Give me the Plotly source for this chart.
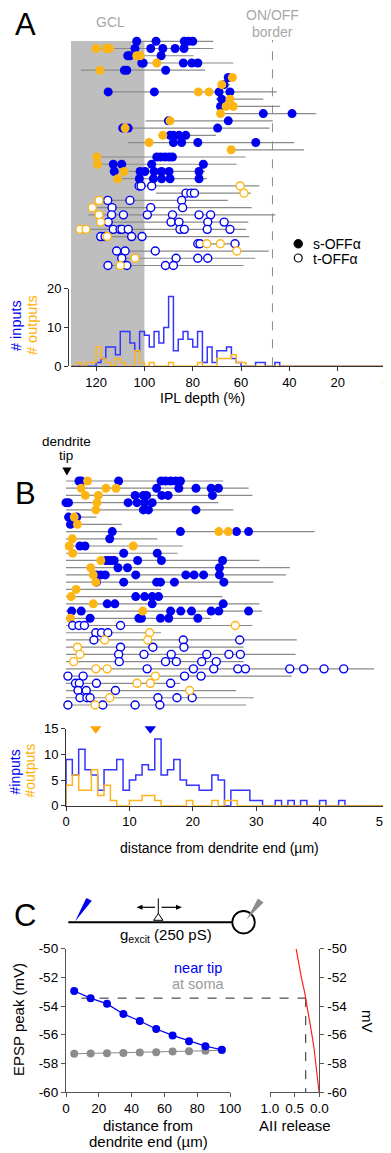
import numpy as np
import plotly.graph_objects as go

W, H = 391, 1153
OFF = 8  # page body margin of the viewer: screen position = figure position + 8 px
BLUE = '#0000f0'
ORANGE = '#fdb515'
HBLUE = '#3535ff'
HORANGE = '#ffb41e'
GREY_LINE = '#8a8a8a'
FONT = 'Liberation Sans, Arial, Helvetica, sans-serif'

# ---------------- Panel A data (IPL depth, %) ----------------
A_start = [103.2, 121.8, 107.3, 101.1, 126.3, 65.9, 68.7, 115.6, 70.4, 69.4, 68.7, 99.5,
           109.8, 94.2, 106.9, 65.9, 119.7, 119.4, 112.9, 111.5, 103.2, 95.2, 118.8, 121.6,
           123.2, 118.1, 126.7, 119.7, 79.1, 112.2, 110.4, 115.1]
A_end = [71.5, 71.5, 79.7, 63.2, 74.9, 63.2, 64.6, 45.2, 50.8, 43.8, 28.9, 46.9,
         48.2, 70.4, 38.0, 33.9, 58.1, 61.8, 74.9, 74.2, 52.4, 56.0, 65.5, 55.6,
         45.8, 57.0, 57.9, 56.6, 60.7, 48.5, 54.1, 59.0]
A_inputs = [
    [103.2, 95.2, 83.5, 81.8, 80.0], [103.9, 97.4, 92.4, 87.3, 83.6], [106.9, 106.0, 93.1],
    [101.1, 100.5, 83.9, 80.4, 77.9], [108.3, 107.3, 91.2], [65.3], [67.0],
    [115.0, 95.9, 69.1, 64.6], [68.0], [68.5], [50.8, 38.9], [90.1, 65.3],
    [109.0, 106.7, 69.7], [89.4, 88.0, 85.7, 82.9], [88.0, 84.6, 77.9, 53.9], [],
    [94.9, 93.3, 91.5, 89.8, 88.4], [112.9, 109.4, 97.0, 75.6],
    [112.5, 101.8, 99.8, 96.0, 92.9, 89.8, 77.4], [102.1, 96.3, 92.9, 89.4, 77.4],
    [102.2, 101.4, 97.0], [82.8, 80.8, 79.3], [115.2, 106.0, 84.6], [113.4, 97.4, 84.2],
    [113.6, 108.7, 98.8, 88.4, 77.4, 72.6], [115.0, 89.0, 85.7, 73.8, 67.0],
    [112.9, 110.1, 109.3, 106.7, 85.3, 83.5, 74.0, 64.6], [118.1, 116.3, 105.3, 101.0],
    [77.9, 77.0, 62.5], [111.5, 108.0, 95.5], [109.4, 86.9, 77.9, 73.8],
    [115.1, 107.3, 91.3, 88.0]]
A_outputs = [
    [], [120.0, 115.9, 114.5], [103.2, 101.8], [94.9], [118.4], [63.6], [68.0],
    [77.7, 73.3], [64.6], [66.2, 63.2], [68.5], [89.4], [108.0], [92.4], [98.1], [64.1],
    [119.7], [119.4], [108.5], [111.1], [60.4], [58.8], [118.8], [121.6], [118.8], [118.1],
    [126.7, 124.2], [115.4], [74.2, 68.6], [61.8], [103.9], [110.0]]
A_sustained = [True] * 20 + [False] * 12

A_bin_edges = list(range(130, -1, -2))
A_hist_inputs = [0, 0, 0, 0, 0,
                 1, 2, 5, 5, 3, 9, 9, 6, 4, 9,
                 8, 5, 9, 6, 10, 18, 4, 7, 9, 7,
                 5, 9, 1, 5, 1, 4, 4, 5, 2, 1,
                 0, 0, 0, 1, 1, 0, 0, 1, 0, 0] + [0] * 20
A_hist_outputs = [0, 1, 0, 1, 1,
                  5, 2, 1, 0, 2, 1, 0, 0, 4, 1,
                  0, 1, 0, 0, 0, 1, 0, 0, 0, 0,
                  0, 1, 0, 0, 0, 2, 2, 2, 3, 1,
                  1, 0, 0, 0, 0, 0, 0, 0, 0, 0] + [0] * 20
A_ipl_ticks = [120, 100, 80, 60, 40, 20, 0]
A_gcl = [130.4, 100]
A_onoff_border = 47

# ---------------- Panel B data (distance from dendrite end, um) ----------------
B_end = [24.8, 28.8, 29.4, 24.05, 26.4, 4.8, 8.8, 39.2, 14.4, 18.4, 17.6, 30.5,
         35.3, 34.7, 32.7, 15.0, 24.7, 30.5, 30.9, 22.8, 29.4, 15.0, 36.4, 28.0,
         36.2, 28.0, 48.6, 35.6, 18.0, 26.8, 29.6, 28.4]
B_inputs = [
    [2.05, 2.4, 8.3, 15.0, 15.7, 16.5, 17.3, 18.05], [14.3, 17.8, 20.5, 22.9, 24.05],
    [10.9, 12.2, 12.7, 15.1, 16.1, 23.1], [0.0, 0.4, 9.8, 11.2, 12.4, 13.6], [12.2, 13.0, 20.5],
    [0.4, 1.7], [0.7], [7.3, 18.05, 26.9, 28.8], [6.9], [2.2, 3.0], [9.1, 14.4],
    [6.3, 6.7, 7.1, 7.6, 11.3, 15.05, 24.7], [8.2, 9.7, 24.2],
    [4.8, 5.5, 6.2, 11.0, 18.9, 20.2, 21.7, 24.2], [4.8, 9.1, 14.3, 14.9, 17.1, 24.9], [],
    [11.0, 12.4, 13.6, 14.6], [6.5, 7.7, 13.6, 24.8],
    [0.9, 2.4, 16.5, 18.1, 19.8, 22.9, 24.1, 28.8], [3.8, 11.5, 11.9, 14.9, 16.2, 20.8],
    [1.05, 2.05, 2.9, 8.6], [4.7, 5.6, 6.6], [4.4, 18.5, 27.4], [8.6, 13.7, 18.6],
    [8.3, 12.3, 16.6, 22.2, 25.7, 27.5], [8.4, 15.7, 17.4, 21.4, 23.7],
    [12.8, 20.1, 23.3, 27.1, 28.3, 35.3, 37.5, 40.7, 43.8], [0.3, 2.7, 18.7, 21.3],
    [1.5, 2.1, 4.8, 16.5], [1.9, 3.2, 7.8], [2.2, 3.3, 3.8, 14.5, 17.5, 19.9],
    [0.3, 5.8, 10.9, 14.8]]
B_outputs = [
    [3.4], [2.4, 6.3, 7.9], [3.05, 5.1], [4.9], [4.7], [1.3], [1.8], [24.1, 25.6], [1.0],
    [0.5, 10.6], [1.05], [5.5], [3.9], [4.3], [4.7], [1.6], [0.8], [4.3], [12.1], [0.7],
    [26.7], [13.2], [6.1, 12.9], [1.8], [2.2], [1.2], [4.7, 6.5], [14.1], [11.2, 13.3],
    [19.5], [6.9], [4.6]]
B_sustained = [True] * 20 + [False] * 12

B_bin_edges = list(range(0, 51))
B_hist_inputs = [9, 6, 11, 7, 6, 3, 7, 7, 9, 3,
                 5, 6, 8, 7, 13, 6, 7, 9, 5, 4,
                 4, 3, 3, 6, 5, 0, 3, 3, 3, 1,
                 1, 0, 0, 1, 0, 1, 0, 1, 0, 0,
                 1, 0, 0, 1, 0, 0, 0, 0, 0, 0]
B_hist_outputs = [4, 6, 3, 3, 7, 2, 4, 1, 0, 0,
                  1, 1, 2, 2, 1, 0, 0, 0, 0, 1,
                  0, 0, 0, 1, 0, 1, 1, 0, 0, 0,
                  0, 0, 0, 0, 0, 0, 0, 0, 0, 0,
                  0, 0, 0, 0, 0, 0, 0, 0, 0, 0]
B_median_inputs = 13.3
B_median_outputs = 4.7
B_dist_ticks = [0, 10, 20, 30, 40, 50]
B_count_ticks = [0, 5, 10, 15]

# ---------------- Panel C data ----------------
C_dist = [5, 15, 25, 35, 45, 55, 65, 75, 85, 95]
C_near_tip = [-52.95, -53.45, -53.85, -54.55, -55.05, -55.6, -56.05, -56.45, -56.8, -57.05]
C_at_soma = [-57.33, -57.31, -57.29, -57.27, -57.25, -57.22, -57.18, -57.15, -57.12, -57.08]
C_vm = [-50, -51, -52, -53, -54, -55, -56, -57, -58, -59, -60]
C_release = [0.47, 0.42, 0.365, 0.30, 0.245, 0.195, 0.15, 0.105, 0.07, 0.035, 0.005]
C_vm_ticks = [-50, -52, -54, -56, -58, -60]
C_dist_ticks = [0, 20, 40, 60, 80, 100]
C_release_ticks = [1.0, 0.5, 0.0]


# ---------------- helpers (screen pixel -> paper fraction) ----------------
def px(x):
    return (x - OFF) / W


def py(y):
    return 1 - (y - OFF) / H


def to_paper(v, dom, rng):
    return dom[0] + (v - rng[0]) / (rng[1] - rng[0]) * (dom[1] - dom[0])


def row_traces(starts, ends, ins, outs, sustained, xa, ya):
    tr = []
    lx, ly = [], []
    for r, (s, e) in enumerate(zip(starts, ends)):
        lx += [s, e, None]
        ly += [r, r, None]
    tr.append(go.Scatter(x=lx, y=ly, mode='lines', line=dict(color=GREY_LINE, width=1.2),
                         xaxis=xa, yaxis=ya, hoverinfo='skip', cliponaxis=False))
    for filled in (True, False):
        for vals, col in ((ins, BLUE), (outs, ORANGE)):
            xs, ys = [], []
            for r, v in enumerate(vals):
                if sustained[r] == filled:
                    xs += v
                    ys += [r] * len(v)
            if filled:
                mk = dict(size=9, color=col, line=dict(width=0))
            else:
                mk = dict(size=8, color='white', line=dict(color=col, width=1.4))
            tr.append(go.Scatter(x=xs, y=ys, mode='markers', marker=mk, xaxis=xa, yaxis=ya,
                                 cliponaxis=False))
    return tr


def step_trace(edges, counts, col, xa, ya):
    x = [edges[0]] + list(edges)
    y = [0] + list(counts) + [counts[-1]]
    return go.Scatter(x=x, y=y, mode='lines', line=dict(color=col, width=1.5, shape='hv'),
                      xaxis=xa, yaxis=ya, cliponaxis=False)


def path(points):
    s = 'M ' + ' L '.join(f'{px(a):.5f},{py(b):.5f}' for a, b in points) + ' Z'
    return s


fig = go.Figure()

# ---- Panel A ----
for t in row_traces(A_start, A_end, A_inputs, A_outputs, A_sustained, 'x', 'y'):
    fig.add_trace(t)
fig.add_trace(step_trace(A_bin_edges, A_hist_inputs, HBLUE, 'x2', 'y2'))
fig.add_trace(step_trace(A_bin_edges, A_hist_outputs, HORANGE, 'x2', 'y2'))

# ---- Panel B ----
for t in row_traces([0] * len(B_end), B_end, B_inputs, B_outputs, B_sustained, 'x3', 'y3'):
    fig.add_trace(t)
fig.add_trace(step_trace(B_bin_edges, B_hist_inputs, HBLUE, 'x4', 'y4'))
fig.add_trace(step_trace(B_bin_edges, B_hist_outputs, HORANGE, 'x4', 'y4'))
fig.add_trace(go.Scatter(x=[B_median_outputs, B_median_inputs], y=[15, 15], mode='markers',
                         marker=dict(symbol='triangle-down', size=10, color=['#ffa500', BLUE]),
                         xaxis='x4', yaxis='y4', cliponaxis=False))

# ---- Panel C ----
fig.add_trace(go.Scatter(x=C_dist, y=C_at_soma, mode='lines+markers',
                         line=dict(color='#8c8c8c', width=1.2),
                         marker=dict(size=8, color='#8c8c8c'), xaxis='x5', yaxis='y5', cliponaxis=False))
fig.add_trace(go.Scatter(x=C_dist, y=C_near_tip, mode='lines+markers',
                         line=dict(color=BLUE, width=1.2),
                         marker=dict(size=8, color=BLUE), xaxis='x5', yaxis='y5', cliponaxis=False))
fig.add_trace(go.Scatter(x=C_release, y=C_vm, mode='lines', line=dict(color='#ff2020', width=1.2),
                         xaxis='x6', yaxis='y6', cliponaxis=False))

# ---------------- axes ----------------
A_xdom = [px(71), px(386)]
A_xrng = [130.4, 0]
B_xdom = [px(66), px(383)]
C_xdom = [px(66), px(230)]
C_xrng = [0, 100]
R_xdom = [px(270), px(319.3)]
R_xrng = [1.0, 0.0]
C_ydom = [py(1092), py(948.7)]

hidden = dict(visible=False, showgrid=False, zeroline=False, automargin=False)
tick = dict(showgrid=False, zeroline=False, showline=True, linecolor='#333', linewidth=1,
            ticks='outside', ticklen=4, tickwidth=1, tickcolor='#333', automargin=False,
            tickfont=dict(size=13, color='black', family=FONT))
tickC = dict(tick, linecolor='#555', tickcolor='#555', linewidth=1.3, tickwidth=1.3, ticklen=4,
             tickfont=dict(size=13.5, color='black', family=FONT))

fig.update_layout(
    template='none',
    xaxis=dict(hidden, domain=A_xdom, range=A_xrng, anchor='y'),
    yaxis=dict(hidden, domain=[py(272), py(35)], range=[31.9, -0.87], anchor='x'),
    xaxis2=dict(tick, domain=A_xdom, range=A_xrng, anchor='y2', tickvals=A_ipl_ticks),
    yaxis2=dict(tick, domain=[py(366.3), py(288.7)], range=[0, 20], anchor='free',
                position=px(68), tickvals=[0, 10, 20]),
    xaxis3=dict(hidden, domain=B_xdom, range=[0, 50], anchor='y3'),
    yaxis3=dict(hidden, domain=[py(711.5), py(474.7)], range=[31.9, -0.87], anchor='x3'),
    xaxis4=dict(tick, domain=B_xdom, range=[0, 50], anchor='y4', tickvals=B_dist_ticks),
    yaxis4=dict(tick, domain=[py(805.7), py(728.7)], range=[0, 15], anchor='x4',
                tickvals=B_count_ticks),
    xaxis5=dict(tickC, domain=C_xdom, range=C_xrng, anchor='y5', tickvals=C_dist_ticks),
    yaxis5=dict(tickC, domain=C_ydom, range=[-60, -50], anchor='x5', tickvals=C_vm_ticks,
                ticktext=[str(v) for v in C_vm_ticks]),
    xaxis6=dict(tickC, domain=R_xdom, range=R_xrng, anchor='y6', tickvals=C_release_ticks,
                ticktext=[f'{v:.1f}' for v in C_release_ticks]),
    yaxis6=dict(tickC, domain=C_ydom, range=[-60, -50], anchor='x6', side='right',
                tickvals=C_vm_ticks, ticktext=[str(v) for v in C_vm_ticks]),
)

# ---------------- shapes ----------------
shapes = []
# GCL band and ON/OFF border
shapes.append(dict(type='rect', xref='x2', yref='paper', x0=A_gcl[0], x1=A_gcl[1],
                   y0=py(366.3), y1=py(41), fillcolor='#bebebe', line=dict(width=0), layer='below'))
shapes.append(dict(type='line', xref='x2', yref='paper', x0=A_onoff_border, x1=A_onoff_border,
                   y0=py(366.3), y1=py(40), line=dict(color='#8a8a8a', width=1, dash='dash'),
                   layer='below'))
# legend symbols
shapes.append(dict(type='circle', xref='paper', yref='paper', x0=px(294), x1=px(302.5),
                   y0=py(248), y1=py(239.5), fillcolor='black', line=dict(color='black', width=1)))
shapes.append(dict(type='circle', xref='paper', yref='paper', x0=px(294.3), x1=px(302.2),
                   y0=py(262), y1=py(254), fillcolor='white', line=dict(color='black', width=1.2)))
# dendrite tip marker
shapes.append(dict(type='path', xref='paper', yref='paper',
                   path=path([(62.3, 467.5), (71.5, 467.5), (66.9, 475.5)]),
                   fillcolor='black', line=dict(width=0)))

# panel C dashed guide from the 15 um near-tip EPSP to the release curve
v_ref = C_near_tip[1]
r_ref = float(np.interp(v_ref, C_vm[::-1], C_release[::-1]))
shapes.append(dict(type='line', xref='paper', yref='y5',
                   x0=to_paper(C_dist[1], C_xdom, C_xrng) - px(17) + px(8),
                   x1=to_paper(r_ref, R_xdom, R_xrng),
                   y0=v_ref, y1=v_ref, line=dict(color='#222', width=1, dash='dash'), layer='below'))
shapes.append(dict(type='line', xref='x6', yref='y6', x0=r_ref, x1=r_ref, y0=v_ref, y1=-60,
                   line=dict(color='#222', width=1, dash='dash'), layer='below'))

# panel C schematic
shapes.append(dict(type='line', xref='paper', yref='paper', x0=px(68.3), x1=px(232),
                   y0=py(922.3), y1=py(922.3), line=dict(color='black', width=2)))
shapes.append(dict(type='circle', xref='paper', yref='paper', x0=px(232.3), x1=px(254.8),
                   y0=py(933.5), y1=py(911), fillcolor='white', line=dict(color='black', width=1.8)))
shapes.append(dict(type='path', xref='paper', yref='paper',
                   path=path([(75, 921.5), (86.3, 898), (91.8, 900.8)]),
                   fillcolor='#0000f0', line=dict(width=0)))
shapes.append(dict(type='path', xref='paper', yref='paper',
                   path=path([(246.5, 919.5), (258, 898.5), (263.5, 902.5)]),
                   fillcolor='#8c8c8c', line=dict(width=0)))
shapes.append(dict(type='line', xref='paper', yref='paper', x0=px(158.3), x1=px(158.3),
                   y0=py(898.3), y1=py(914), line=dict(color='black', width=1)))
shapes.append(dict(type='path', xref='paper', yref='paper',
                   path=path([(158.3, 913.5), (153.6, 920.3), (163, 920.3)]),
                   fillcolor='white', line=dict(color='black', width=1)))
# two-headed movement arrows
shapes.append(dict(type='line', xref='paper', yref='paper', x0=px(141), x1=px(155),
                   y0=py(907.3), y1=py(907.3), line=dict(color='black', width=1.2)))
shapes.append(dict(type='path', xref='paper', yref='paper',
                   path=path([(136.5, 907.3), (142.5, 904.8), (142.5, 909.8)]),
                   fillcolor='black', line=dict(width=0)))
shapes.append(dict(type='line', xref='paper', yref='paper', x0=px(161.5), x1=px(177),
                   y0=py(907.3), y1=py(907.3), line=dict(color='black', width=1.2)))
shapes.append(dict(type='path', xref='paper', yref='paper',
                   path=path([(182, 907.3), (176, 904.8), (176, 909.8)]),
                   fillcolor='black', line=dict(width=0)))

fig.update_layout(shapes=shapes)

# ---------------- annotations ----------------
ann = []


def text(t, x, y, size=14, color='black', angle=0, xanchor='center', yanchor='middle'):
    ann.append(dict(text=t, x=px(x), y=py(y), xref='paper', yref='paper', showarrow=False,
                    font=dict(size=size, color=color, family=FONT), textangle=angle,
                    xanchor=xanchor, yanchor=yanchor))


text('A', 25, 25, size=31)
text('B', 25, 493, size=31)
text('C', 25, 915, size=31)
text('GCL', 110, 22, size=14, color='#a8a8a8')
text('ON/OFF', 272, 15, size=14, color='#a8a8a8')
text('border', 272, 32, size=14, color='#a8a8a8')
text('s-OFFα', 311, 244, size=14, xanchor='left')
text('t-OFFα', 311, 258.5, size=14, xanchor='left')
text('# inputs', 16, 326, size=14.5, color=BLUE, angle=-90)
text('# outputs', 32, 325, size=14.5, color='#ffb000', angle=-90)
text('IPL depth (%)', 202, 398, size=14)
text('dendrite', 66, 441, size=13.5)
text('tip', 66, 456, size=13.5)
text('#inputs', 14.5, 772, size=14, color=BLUE, angle=-90)
text('#outputs', 29.5, 771, size=14, color='#ffb000', angle=-90)
text('distance from dendrite end (µm)', 219.5, 848, size=14)
text('g<sub>excit</sub> (250 pS)', 166, 935, size=15)
text('near tip', 198, 968, size=14.5, color=BLUE)
text('at soma', 198, 984, size=14.5, color='#9a9a9a')
text('EPSP peak (mV)', 19, 1020, size=15, angle=-90)
text('distance from', 148, 1125, size=15)
text('dendrite end (µm)', 148, 1141, size=15)
text('AII release', 295, 1125, size=15)
text('mV', 368, 1021, size=15, angle=90)

fig.update_layout(
    annotations=ann,
    width=W, height=H, margin=dict(l=0, r=0, t=0, b=0, pad=0),
    paper_bgcolor='white', plot_bgcolor='rgba(0,0,0,0)', showlegend=False,
    font=dict(family=FONT, color='black'),
)

fig.write_html('out.html')
